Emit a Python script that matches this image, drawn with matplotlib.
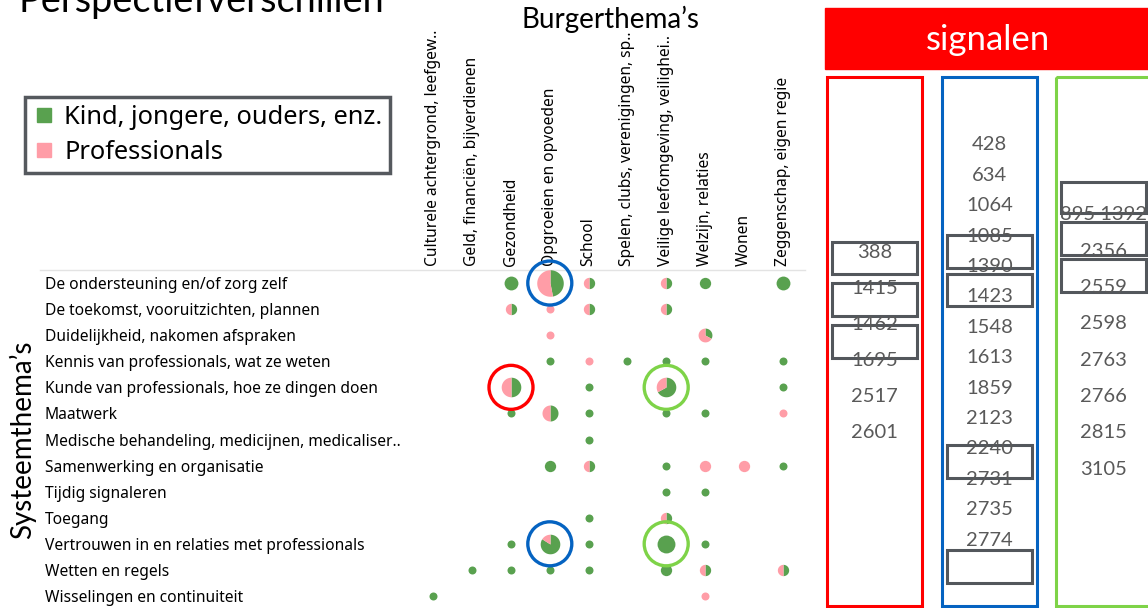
import matplotlib
matplotlib.use('Agg')
import matplotlib.pyplot as plt
from matplotlib.lines import Line2D
from matplotlib.patches import Rectangle
import numpy as np

GREEN = '#59A14F'
PINK = '#FF9DA7'
GRAY_BOX = '#53575C'
NUM_GRAY = '#595959'

burger_themes = ['Culturele achtergrond, leefgew..', 'Geld, financiën, bijverdienen', 'Gezondheid',
                 'Opgroeien en opvoeden', 'School', 'Spelen, clubs, verenigingen, sp..',
                 'Veilige leefomgeving, veilighei..', 'Welzijn, relaties', 'Wonen',
                 'Zeggenschap, eigen regie']
system_themes = ['De ondersteuning en/of zorg zelf', 'De toekomst, vooruitzichten, plannen',
                 'Duidelijkheid, nakomen afspraken', 'Kennis van professionals, wat ze weten',
                 'Kunde van professionals, hoe ze dingen doen', 'Maatwerk',
                 'Medische behandeling, medicijnen, medicaliser..', 'Samenwerking en organisatie',
                 'Tijdig signaleren', 'Toegang', 'Vertrouwen in en relaties met professionals',
                 'Wetten en regels', 'Wisselingen en continuiteit']

# one entry per pie: system row, burger column, number of mentions, share of "Kind, jongere..."
cell_rows = [0, 0, 0, 0, 0, 0,
             1, 1, 1, 1,
             2, 2,
             3, 3, 3, 3, 3, 3,
             4, 4, 4, 4,
             5, 5, 5, 5, 5, 5,
             6,
             7, 7, 7, 7, 7, 7,
             8, 8,
             9, 9,
             10, 10, 10, 10, 10,
             11, 11, 11, 11, 11, 11, 11,
             12, 12]
cell_cols = [2, 3, 4, 6, 7, 9,
             2, 3, 4, 6,
             3, 7,
             3, 4, 5, 6, 7, 9,
             2, 4, 6, 9,
             2, 3, 4, 6, 7, 9,
             4,
             3, 4, 6, 7, 8, 9,
             6, 7,
             4, 6,
             2, 3, 4, 6, 7,
             1, 2, 3, 4, 6, 7, 9,
             0, 7]
cell_counts = [3, 11, 2, 2, 2, 3,
               2, 1, 2, 2,
               1, 3,
               1, 1, 1, 1, 1, 1,
               6, 1, 6, 1,
               1, 4, 1, 1, 1, 1,
               1,
               2, 2, 1, 2, 2, 1,
               1, 1,
               1, 2,
               1, 6, 1, 5, 1,
               1, 1, 1, 1, 2, 2, 2,
               1, 1]
cell_green = [1, 0.47, 0.5, 0.5, 1, 1,
              0.5, 0, 0.5, 0.5,
              0, 0.33,
              1, 0, 1, 1, 1, 1,
              0.5, 1, 0.67, 1,
              1, 0.5, 1, 1, 1, 0,
              1,
              1, 0.5, 1, 0, 0, 1,
              1, 1,
              1, 0.5,
              1, 0.84, 1, 1, 1,
              1, 1, 1, 1, 1, 0.5, 0.5,
              1, 0]

hl_rows = [0, 4, 4, 10, 10]
hl_cols = [3, 2, 6, 3, 6]
hl_colors = ['#0563C1', '#FF0000', '#7ED348', '#0563C1', '#7ED348']

red_signals = ['388', '1415', '1462', '1695', '2517', '2601']
blue_signals = ['428', '634', '1064', '1085', '1390', '1423', '1548', '1613', '1859', '2123',
                '2240', '2731', '2735', '2774']
green_signals = ['895 1392', '2356', '2559', '2598', '2763', '2766', '2815', '3105']

W, H = 1148, 608
fig = plt.figure(figsize=(W / 100, H / 100), dpi=100)

# ---- pie grid ----
ax = fig.add_axes([414 / W, 1 - 609 / H, 388 / W, 339 / H])
ax.set_xlim(-0.5, len(burger_themes) - 0.5)
ax.set_ylim(len(system_themes) - 0.5, -0.5)
for s in ax.spines.values():
    s.set_visible(False)

PX = 0.72  # points per pixel at 100 dpi
R1 = 4.0   # radius in px of a pie with one mention


def wedge(start, end):
    t = np.radians(np.linspace(start, end, 80))
    xy = np.column_stack([np.r_[0, np.cos(t), 0], np.r_[0, np.sin(t), 0]])
    return xy, np.abs(xy).max()


for r, c, n, g in zip(cell_rows, cell_cols, cell_counts, cell_green):
    size = (2 * R1 * np.sqrt(n) * PX) ** 2
    if g >= 1 or g <= 0:
        ax.scatter(c, r, s=size, color=GREEN if g >= 1 else PINK, marker='o', linewidths=0, zorder=3)
        continue
    split = 90 - 360 * g
    xy, m = wedge(split, 90)
    ax.scatter(c, r, s=size * m ** 2, color=GREEN, marker=xy, linewidths=0, zorder=3)
    xy, m = wedge(90, split + 360)
    ax.scatter(c, r, s=size * m ** 2, color=PINK, marker=xy, linewidths=0, zorder=3)

ax.scatter(hl_cols, hl_rows, s=(44 * PX) ** 2, facecolors='none', edgecolors=hl_colors,
           linewidths=2.4, zorder=4, clip_on=False)

for yy in (-0.5, len(system_themes) - 0.5):
    ax.axhline(yy, xmin=-0.964, xmax=1.008, color='#e3e3e3', lw=1, clip_on=False)

ax.xaxis.tick_top()
ax.set_xticks(range(len(burger_themes)))
ax.set_xticklabels(burger_themes, rotation=90, fontsize=11.2, family='Noto Sans', va='bottom', ha='center')
ax.set_yticks(range(len(system_themes)))
ax.set_yticklabels(system_themes, fontsize=11.2, family='Noto Sans', ha='left')
ax.tick_params(axis='x', length=0, pad=3)
ax.tick_params(axis='y', length=0, pad=(414 - 45) * PX)

fig.text(18 / W, 1 - 12 / H, 'Perspectiefverschillen', family='Lato', fontsize=27.3, va='baseline', ha='left')
fig.text(610 / W, 1 - 28 / H, 'Burgerthema’s', family='Lato', fontsize=20, va='baseline', ha='center')
fig.text(22 / W, 1 - 440 / H, 'Systeemthema’s', family='Lato', fontsize=20, va='center', ha='center',
         rotation=90)

handles = [Line2D([], [], marker='s', color=GREEN, linestyle='none', markersize=10),
           Line2D([], [], marker='s', color=PINK, linestyle='none', markersize=10)]
leg = fig.legend(handles, ['Kind, jongere, ouders, enz.', 'Professionals'], loc='upper left',
                 bbox_to_anchor=(25 / W, 1 - 97 / H), prop={'family': 'Noto Sans', 'size': 18.3},
                 frameon=True, fancybox=False, framealpha=1, borderpad=0.3, handletextpad=0.35,
                 handlelength=0.9, labelspacing=0.42, borderaxespad=0)
leg.get_frame().set_edgecolor('#55595e')
leg.get_frame().set_linewidth(2.5)

# ---- signalen panel ----
pax = fig.add_axes([820 / W, 0, 328 / W, 1])
pax.set_xlim(820, W)
pax.set_ylim(H, 0)
pax.axis('off')

pax.add_patch(Rectangle((825, 8), 330, 61, color='#FF0000'))
pax.text(988, 40, 'signalen', color='white', family='Lato', fontsize=25, ha='center', va='center')

columns = [
    (827, '#FF0000', red_signals, 253, 35.8, [(242, 274), (283, 316), (325, 358)]),
    (942, '#0563C1', blue_signals, 145, 30.4, [(235, 268), (274, 306), (445, 478), (550, 583)]),
    (1056, '#7ED348', green_signals, 215, 36.3, [(182, 213), (222, 255), (259, 292)]),
]
for x0, col, nums, y0, step, boxes in columns:
    pax.add_patch(Rectangle((x0, 77), 95, 529, fill=False, edgecolor=col, lw=2.2))
    for i, label in enumerate(nums):
        pax.text(x0 + 47.5, y0 + i * step, label, color=NUM_GRAY, family='Lato', fontsize=14.5,
                 ha='center', va='center')
    for top, bot in boxes:
        pax.add_patch(Rectangle((x0 + 5, top), 85, bot - top, fill=False, edgecolor=GRAY_BOX, lw=2.2))

fig.savefig('out.png', dpi=100)
